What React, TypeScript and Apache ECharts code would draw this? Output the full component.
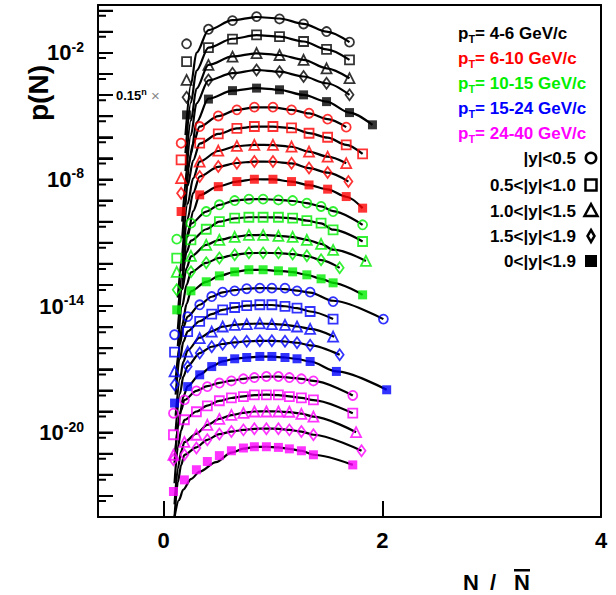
import React, { useEffect, useRef } from "react";
import * as echarts from "echarts";

// x: N / N-bar ; y: log10 p(N), already scaled by 0.15^n
const X_BLACK = [0.21, 0.41, 0.63, 0.85, 1.06, 1.28, 1.49, 1.7, 1.91];
const X_RED = [0.16, 0.33, 0.5, 0.67, 0.83, 1.0, 1.17, 1.33, 1.5, 1.67, 1.82];
const X_RED_D = [0.16, 0.33, 0.5, 0.67, 0.83, 1.0, 1.17, 1.33, 1.5, 1.69];
const X_GREEN = [0.12, 0.25, 0.39, 0.51, 0.65, 0.78, 0.91, 1.05, 1.18, 1.31, 1.44, 1.55, 1.82];
const X_GREEN_T = [0.12, 0.25, 0.39, 0.51, 0.65, 0.78, 0.91, 1.05, 1.18, 1.31, 1.44, 1.55, 1.85];
const X_GREEN_D = [0.12, 0.25, 0.39, 0.51, 0.65, 0.78, 0.91, 1.05, 1.18, 1.31, 1.44, 1.61];
const X_BLUE = [0.1, 0.22, 0.33, 0.44, 0.54, 0.65, 0.76, 0.88, 0.99, 1.11, 1.22, 1.34, 1.55, 2.01];
const X_BLUE_D = [0.1, 0.22, 0.33, 0.44, 0.54, 0.65, 0.76, 0.88, 0.99, 1.11, 1.22, 1.34, 1.61];
const X_BLUE_B = [0.1, 0.22, 0.33, 0.44, 0.54, 0.65, 0.76, 0.88, 0.99, 1.11, 1.22, 1.34, 1.58, 2.04];
const X_MAG = [0.09, 0.19, 0.3, 0.4, 0.51, 0.62, 0.73, 0.83, 0.94, 1.05, 1.15, 1.26, 1.37, 1.73];
const X_MAG_T = [0.09, 0.19, 0.3, 0.4, 0.51, 0.62, 0.73, 0.83, 0.94, 1.05, 1.15, 1.26, 1.37, 1.76];
const X_MAG_D = [0.09, 0.19, 0.3, 0.4, 0.51, 0.62, 0.73, 0.83, 0.94, 1.05, 1.15, 1.26, 1.37, 1.81];

const bkCircle = [-1.57, -0.88, -0.47, -0.28, -0.39, -0.63, -0.99, -1.49];
const bkSquare = [-2.41, -1.75, -1.35, -1.15, -1.23, -1.46, -1.83, -2.33];
const bkTri = [-3.28, -2.57, -2.18, -2.01, -2.1, -2.33, -2.73, -3.2];
const bkDiam = [-4.1, -3.28, -2.96, -2.81, -2.89, -3.12, -3.44, -3.99];
const bkFill = [-4.94, -4.19, -3.79, -3.67, -3.75, -3.99, -4.31, -4.83, -5.41];

const rdCircle = [-6.28, -5.49, -4.99, -4.7, -4.57, -4.57, -4.7, -4.86, -5.14, -5.52];
const rdSquare = [-7.07, -6.28, -5.84, -5.58, -5.49, -5.49, -5.55, -5.81, -6.0, -6.36, -6.79];
const rdTri = [-7.94, -7.15, -6.63, -6.41, -6.36, -6.36, -6.44, -6.68, -6.92, -7.23];
const rdDiam = [-8.65, -7.86, -7.39, -7.23, -7.15, -7.15, -7.23, -7.46, -7.67, -8.1];
const rdFill = [-9.52, -8.73, -8.34, -8.1, -7.99, -7.99, -8.1, -8.26, -8.46, -8.81, -9.36];

const grCircle = [-10.83, -10.07, -9.52, -9.2, -9.0, -8.93, -8.93, -8.97, -9.0, -9.12, -9.28, -9.52, -10.15];
const grSquare = [-11.73, -10.86, -10.36, -10.0, -9.83, -9.79, -9.79, -9.79, -9.83, -9.95, -10.07, -10.39, -10.94];
const grTri = [-12.38, -11.62, -11.1, -10.86, -10.72, -10.63, -10.63, -10.67, -10.72, -10.86, -11.05, -11.34, -11.86];
const grDiam = [-13.23, -12.38, -11.95, -11.72, -11.57, -11.48, -11.48, -11.48, -11.53, -11.62, -11.81, -12.19];
const grFill = [-14.18, -13.28, -12.85, -12.57, -12.38, -12.28, -12.28, -12.33, -12.38, -12.52, -12.71, -12.9, -13.47];

const blCircle = [-15.36, -14.5, -13.94, -13.55, -13.34, -13.28, -13.18, -13.15, -13.15, -13.15, -13.28, -13.34, -13.79, -14.62];
const blSquare = [-16.18, -15.21, -14.73, -14.38, -14.18, -14.07, -13.98, -13.94, -13.94, -14.02, -14.1, -14.26, -14.62];
const blTri = [-17.1, -16.16, -15.52, -15.21, -14.97, -14.89, -14.86, -14.82, -14.86, -14.89, -14.97, -15.08, -15.45];
const blDiam = [-17.73, -16.87, -16.23, -15.93, -15.81, -15.72, -15.67, -15.65, -15.65, -15.67, -15.74, -15.86, -16.31];
const blFill = [-18.6, -17.82, -17.26, -16.87, -16.62, -16.5, -16.44, -16.39, -16.39, -16.44, -16.5, -16.63, -17.1, -17.97];

const mgCircle = [-19.08, -18.45, -18.02, -17.82, -17.65, -17.55, -17.45, -17.39, -17.34, -17.34, -17.39, -17.45, -17.55, -18.24];
const mgSquare = [-20.1, -19.39, -19.01, -18.73, -18.49, -18.35, -18.29, -18.21, -18.21, -18.21, -18.29, -18.35, -18.45, -19.08];
const mgTri = [-21.05, -20.44, -20.1, -19.63, -19.35, -19.16, -19.06, -19.0, -19.0, -19.0, -19.01, -19.11, -19.24, -19.98];
const mgDiam = [-21.29, -21.05, -20.73, -20.34, -20.07, -19.95, -19.87, -19.82, -19.82, -19.82, -19.87, -19.95, -20.1, -20.86];
const mgFill = [-22.79, -22.24, -21.76, -21.37, -21.09, -20.86, -20.73, -20.67, -20.67, -20.7, -20.77, -20.86, -21.05, -21.53];

// fit curves (black lines): [x, log10 p]
const fitBkCircle = [[0.2, -5.9], [0.25, -3.5], [0.3, -2.0], [0.41, -0.92], [0.63, -0.45], [0.85, -0.3], [1.06, -0.37], [1.28, -0.62], [1.49, -0.99], [1.7, -1.49]];
const fitBkSquare = [[0.2, -6.75], [0.25, -4.35], [0.3, -2.85], [0.41, -1.75], [0.63, -1.33], [0.85, -1.16], [1.06, -1.23], [1.28, -1.46], [1.49, -1.83], [1.7, -2.33]];
const fitBkTri = [[0.2, -7.6], [0.25, -5.2], [0.3, -3.7], [0.41, -2.57], [0.63, -2.17], [0.85, -2.02], [1.06, -2.1], [1.28, -2.33], [1.49, -2.73], [1.7, -3.2]];
const fitBkDiam = [[0.2, -8.3], [0.25, -5.9], [0.3, -4.4], [0.41, -3.3], [0.63, -2.96], [0.85, -2.81], [1.06, -2.89], [1.28, -3.12], [1.49, -3.44], [1.7, -3.99]];
const fitBkFill = [[0.2, -9.2], [0.25, -6.8], [0.3, -5.3], [0.41, -4.17], [0.63, -3.79], [0.85, -3.67], [1.06, -3.75], [1.28, -3.99], [1.49, -4.31], [1.7, -4.83], [1.91, -5.41]];

const fitRdCircle = [[0.17, -10.0], [0.22, -7.5], [0.27, -6.3], [0.33, -5.5], [0.5, -5.0], [0.67, -4.7], [0.83, -4.58], [1.0, -4.58], [1.17, -4.7], [1.33, -4.87], [1.5, -5.14], [1.67, -5.52]];
const fitRdSquare = [[0.17, -10.8], [0.22, -8.3], [0.27, -7.1], [0.33, -6.3], [0.5, -5.84], [0.67, -5.58], [0.83, -5.5], [1.0, -5.5], [1.17, -5.56], [1.33, -5.8], [1.5, -6.02], [1.67, -6.36], [1.82, -6.79]];
const fitRdTri = [[0.17, -11.65], [0.22, -9.15], [0.27, -7.95], [0.33, -7.15], [0.5, -6.65], [0.67, -6.42], [0.83, -6.36], [1.0, -6.37], [1.17, -6.45], [1.33, -6.68], [1.5, -6.92], [1.67, -7.23]];
const fitRdDiam = [[0.17, -12.35], [0.22, -9.85], [0.27, -8.65], [0.33, -7.86], [0.5, -7.4], [0.67, -7.22], [0.83, -7.15], [1.0, -7.16], [1.17, -7.24], [1.33, -7.46], [1.5, -7.68], [1.69, -8.1]];
const fitRdFill = [[0.17, -13.2], [0.22, -10.7], [0.27, -9.5], [0.33, -8.74], [0.5, -8.33], [0.67, -8.1], [0.83, -7.99], [1.0, -8.0], [1.17, -8.1], [1.33, -8.27], [1.5, -8.47], [1.67, -8.82], [1.82, -9.36]];

const fitGrCircle = [[0.13, -13.6], [0.17, -11.7], [0.21, -10.7], [0.25, -10.1], [0.39, -9.52], [0.51, -9.2], [0.65, -9.0], [0.78, -8.94], [0.91, -8.93], [1.05, -8.97], [1.18, -9.02], [1.31, -9.12], [1.44, -9.28], [1.55, -9.5], [1.82, -10.15]];
const fitGrSquare = [[0.13, -14.4], [0.17, -12.5], [0.21, -11.45], [0.25, -10.9], [0.39, -10.36], [0.51, -10.0], [0.65, -9.84], [0.78, -9.79], [0.91, -9.79], [1.05, -9.8], [1.18, -9.84], [1.31, -9.95], [1.44, -10.08], [1.55, -10.38], [1.82, -10.94]];
const fitGrTri = [[0.13, -15.1], [0.17, -13.2], [0.21, -12.2], [0.25, -11.65], [0.39, -11.1], [0.51, -10.86], [0.65, -10.72], [0.78, -10.64], [0.91, -10.63], [1.05, -10.67], [1.18, -10.73], [1.31, -10.86], [1.44, -11.05], [1.55, -11.33], [1.85, -11.86]];
const fitGrDiam = [[0.13, -15.9], [0.17, -14.0], [0.21, -13.0], [0.25, -12.4], [0.39, -11.95], [0.51, -11.72], [0.65, -11.57], [0.78, -11.49], [0.91, -11.48], [1.05, -11.49], [1.18, -11.54], [1.31, -11.63], [1.44, -11.82], [1.61, -12.19]];
const fitGrFill = [[0.13, -16.8], [0.17, -14.9], [0.21, -13.9], [0.25, -13.3], [0.39, -12.85], [0.51, -12.57], [0.65, -12.38], [0.78, -12.29], [0.91, -12.28], [1.05, -12.33], [1.18, -12.39], [1.31, -12.52], [1.44, -12.71], [1.55, -12.9], [1.82, -13.47]];

const fitBlCircle = [[0.11, -17.5], [0.15, -15.8], [0.18, -15.0], [0.22, -14.5], [0.33, -13.94], [0.44, -13.56], [0.54, -13.35], [0.65, -13.25], [0.76, -13.18], [0.88, -13.15], [0.99, -13.16], [1.11, -13.2], [1.22, -13.27], [1.34, -13.36], [1.55, -13.75], [2.01, -14.62]];
const fitBlSquare = [[0.11, -18.2], [0.15, -16.5], [0.18, -15.7], [0.22, -15.2], [0.33, -14.72], [0.44, -14.38], [0.54, -14.18], [0.65, -14.06], [0.76, -13.98], [0.88, -13.95], [0.99, -13.95], [1.11, -14.01], [1.22, -14.1], [1.34, -14.26], [1.55, -14.62]];
const fitBlTri = [[0.11, -19.2], [0.15, -17.45], [0.18, -16.65], [0.22, -16.1], [0.33, -15.5], [0.44, -15.2], [0.54, -14.98], [0.65, -14.89], [0.76, -14.85], [0.88, -14.83], [0.99, -14.85], [1.11, -14.89], [1.22, -14.97], [1.34, -15.08], [1.56, -15.45]];
const fitBlDiam = [[0.11, -19.9], [0.15, -18.15], [0.18, -17.35], [0.22, -16.85], [0.33, -16.23], [0.44, -15.93], [0.54, -15.8], [0.65, -15.72], [0.76, -15.67], [0.88, -15.65], [0.99, -15.65], [1.11, -15.68], [1.22, -15.74], [1.34, -15.86], [1.61, -16.31]];
const fitBlFill = [[0.11, -20.8], [0.15, -19.1], [0.18, -18.3], [0.22, -17.8], [0.33, -17.25], [0.44, -16.87], [0.54, -16.62], [0.65, -16.5], [0.76, -16.44], [0.88, -16.4], [0.99, -16.4], [1.11, -16.44], [1.22, -16.51], [1.34, -16.63], [1.58, -17.1], [2.04, -17.97]];

const fitMgCircle = [[0.1, -21.45], [0.13, -19.75], [0.16, -18.95], [0.19, -18.45], [0.3, -18.02], [0.4, -17.8], [0.51, -17.64], [0.62, -17.54], [0.73, -17.45], [0.83, -17.38], [0.94, -17.35], [1.05, -17.35], [1.15, -17.39], [1.26, -17.45], [1.37, -17.55], [1.73, -18.24]];
const fitMgSquare = [[0.1, -22.4], [0.13, -20.7], [0.16, -19.9], [0.19, -19.4], [0.3, -19.0], [0.4, -18.72], [0.51, -18.5], [0.62, -18.36], [0.73, -18.28], [0.83, -18.22], [0.94, -18.2], [1.05, -18.22], [1.15, -18.28], [1.26, -18.35], [1.37, -18.46], [1.73, -19.08]];
const fitMgTri = [[0.1, -23.4], [0.13, -21.7], [0.16, -20.9], [0.19, -20.45], [0.3, -20.05], [0.4, -19.63], [0.51, -19.35], [0.62, -19.17], [0.73, -19.06], [0.83, -19.0], [0.94, -18.99], [1.05, -19.0], [1.15, -19.03], [1.26, -19.1], [1.37, -19.24], [1.76, -19.98]];
const fitMgDiam = [[0.1, -24.0], [0.13, -22.35], [0.16, -21.55], [0.19, -21.05], [0.3, -20.7], [0.4, -20.34], [0.51, -20.07], [0.62, -19.95], [0.73, -19.87], [0.83, -19.82], [0.94, -19.81], [1.05, -19.82], [1.15, -19.87], [1.26, -19.95], [1.37, -20.1], [1.81, -20.86]];
const fitMgFill = [[0.1, -24.0], [0.14, -23.2], [0.18, -22.7], [0.25, -22.2], [0.33, -21.85], [0.48, -21.4], [0.62, -20.95], [0.73, -20.76], [0.83, -20.68], [0.94, -20.67], [1.05, -20.7], [1.15, -20.77], [1.26, -20.86], [1.37, -21.05], [1.73, -21.53]];

const PT_LABELS = ["4-6", "6-10", "10-15", "15-24", "24-40"];
const PT_COLORS = ["#000000", "#ff0000", "#00ee00", "#0000ff", "#ff00ff"];
const Y_LABELS = ["|y|<0.5", "0.5<|y|<1.0", "1.0<|y|<1.5", "1.5<|y|<1.9", "0<|y|<1.9"];
const Y_TICK_LABELS = [-2, -8, -14, -20];
const Y_DECADES = [-23, -22, -21, -20, -19, -18, -17, -16, -15, -14, -13, -12, -11, -10, -9, -8, -7, -6, -5, -4, -3, -2, -1, 0];
const Y_SHORT_TICKS = [-23.24, -22.24, -21.24, -20.24, -19.24, -18.24, -17.24, -16.24, -15.24, -14.24, -13.24, -12.24, -11.24, -10.24, -9.24, -8.24, -7.24, -6.24, -5.24, -4.24, -3.24, -2.24, -1.24, -0.24];
const X_MIN = -0.6;
const X_MAX = 4;
const Y_MIN = -24;
const Y_MAX = 0.27;
// tick lengths in x-axis units (about 15 px and 8 px)
const LONG_TICK = 0.137;
const SHORT_TICK = 0.073;

const GRID = { left: 98, top: 5, right: 15, bottom: 78 };
const W = 616;
const H = 595;

type Shape = "circle" | "square" | "triangle" | "diamond" | "filled";
const SHAPES: Shape[] = ["circle", "square", "triangle", "diamond", "filled"];

const CURVES: { color: number; shape: Shape; x: number[]; y: number[]; fit: number[][] }[] = [
  { color: 0, shape: "circle", x: X_BLACK, y: bkCircle, fit: fitBkCircle },
  { color: 0, shape: "square", x: X_BLACK, y: bkSquare, fit: fitBkSquare },
  { color: 0, shape: "triangle", x: X_BLACK, y: bkTri, fit: fitBkTri },
  { color: 0, shape: "diamond", x: X_BLACK, y: bkDiam, fit: fitBkDiam },
  { color: 0, shape: "filled", x: X_BLACK, y: bkFill, fit: fitBkFill },
  { color: 1, shape: "circle", x: X_RED, y: rdCircle, fit: fitRdCircle },
  { color: 1, shape: "square", x: X_RED, y: rdSquare, fit: fitRdSquare },
  { color: 1, shape: "triangle", x: X_RED, y: rdTri, fit: fitRdTri },
  { color: 1, shape: "diamond", x: X_RED_D, y: rdDiam, fit: fitRdDiam },
  { color: 1, shape: "filled", x: X_RED, y: rdFill, fit: fitRdFill },
  { color: 2, shape: "circle", x: X_GREEN, y: grCircle, fit: fitGrCircle },
  { color: 2, shape: "square", x: X_GREEN, y: grSquare, fit: fitGrSquare },
  { color: 2, shape: "triangle", x: X_GREEN_T, y: grTri, fit: fitGrTri },
  { color: 2, shape: "diamond", x: X_GREEN_D, y: grDiam, fit: fitGrDiam },
  { color: 2, shape: "filled", x: X_GREEN, y: grFill, fit: fitGrFill },
  { color: 3, shape: "circle", x: X_BLUE, y: blCircle, fit: fitBlCircle },
  { color: 3, shape: "square", x: X_BLUE, y: blSquare, fit: fitBlSquare },
  { color: 3, shape: "triangle", x: X_BLUE, y: blTri, fit: fitBlTri },
  { color: 3, shape: "diamond", x: X_BLUE_D, y: blDiam, fit: fitBlDiam },
  { color: 3, shape: "filled", x: X_BLUE_B, y: blFill, fit: fitBlFill },
  { color: 4, shape: "circle", x: X_MAG, y: mgCircle, fit: fitMgCircle },
  { color: 4, shape: "square", x: X_MAG, y: mgSquare, fit: fitMgSquare },
  { color: 4, shape: "triangle", x: X_MAG_T, y: mgTri, fit: fitMgTri },
  { color: 4, shape: "diamond", x: X_MAG_D, y: mgDiam, fit: fitMgDiam },
  { color: 4, shape: "filled", x: X_MAG, y: mgFill, fit: fitMgFill },
];

const FONT = "'Liberation Sans', Arial, Helvetica, sans-serif";

function symbolOf(shape: Shape) {
  if (shape === "circle") return { symbol: "circle", size: 9 };
  if (shape === "triangle") return { symbol: "triangle", size: 10 };
  if (shape === "diamond") return { symbol: "diamond", size: [8, 11] };
  return { symbol: "rect", size: 9 };
}

export default function App() {
  const ref = useRef<HTMLDivElement>(null);
  useEffect(() => {
    if (!ref.current) return;
    const chart = echarts.init(ref.current, undefined, { renderer: "svg" });
    const series: any[] = [];
    CURVES.forEach((c, i) => {
      series.push({
        type: "line",
        name: "fit" + i,
        data: c.fit,
        smooth: 0.3,
        smoothMonotone: "x",
        showSymbol: false,
        symbol: "none",
        silent: true,
        z: 2,
        lineStyle: { color: "#000", width: 2.2 },
      });
    });
    CURVES.forEach((c, i) => {
      const col = PT_COLORS[c.color];
      const s = symbolOf(c.shape);
      const filled = c.shape === "filled";
      series.push({
        type: "scatter",
        name: "pts" + i,
        data: c.y.map((v, k) => [c.x[k], v]),
        symbol: s.symbol,
        symbolSize: s.size,
        silent: true,
        z: 3,
        itemStyle: filled
          ? { color: col, borderWidth: 0 }
          : { color: "rgba(0,0,0,0)", borderColor: col, borderWidth: 1.8 },
      });
    });
    // y-axis tick marks as short segments drawn through the axis scales
    const tickData: any[] = [];
    Y_DECADES.forEach((v) => {
      tickData.push([X_MIN, v], [X_MIN + LONG_TICK, v], null);
    });
    Y_SHORT_TICKS.forEach((v) => {
      tickData.push([X_MIN, v], [X_MIN + SHORT_TICK, v], null);
    });
    series.push({
      type: "line",
      name: "yTicks",
      data: tickData,
      connectNulls: false,
      showSymbol: false,
      symbol: "none",
      silent: true,
      clip: false,
      z: 5,
      lineStyle: { color: "#000", width: 2 },
    });

    const graphic: any[] = [];
    graphic.push({
      type: "text",
      x: 38,
      y: 93,
      rotation: Math.PI / 2,
      style: { text: "p(N)", font: `bold 28px ${FONT}`, fill: "#000", align: "center", verticalAlign: "middle" },
    });
    graphic.push({ type: "text", x: 463, y: 582, style: { text: "N", font: `bold 22px ${FONT}`, fill: "#000", verticalAlign: "middle" } });
    graphic.push({ type: "text", x: 490, y: 582, style: { text: "/", font: `bold 22px ${FONT}`, fill: "#000", verticalAlign: "middle" } });
    graphic.push({ type: "text", x: 514, y: 582, style: { text: "N", font: `bold 22px ${FONT}`, fill: "#000", verticalAlign: "middle" } });
    graphic.push({ type: "rect", shape: { x: 514, y: 569, width: 16, height: 2.5 }, style: { fill: "#000" } });
    graphic.push({
      type: "text",
      x: 116,
      y: 95,
      style: {
        text: "{a|0.15}{n|n}{x| ×}",
        verticalAlign: "middle",
        rich: {
          a: { font: `bold 13px ${FONT}`, fill: "#000", lineHeight: 16 },
          n: { font: `bold 9px ${FONT}`, fill: "#000", verticalAlign: "top", lineHeight: 10 },
          x: { font: `15px ${FONT}`, fill: "#888", lineHeight: 16 },
        },
      },
    });
    PT_LABELS.forEach((lab, i) => {
      graphic.push({
        type: "text",
        x: 458,
        y: 33 + i * 25,
        style: {
          text: `{p|p}{t|T}{r|= ${lab} GeV/c}`,
          verticalAlign: "middle",
          rich: {
            p: { font: `bold 17px ${FONT}`, fill: PT_COLORS[i], lineHeight: 22, verticalAlign: "middle" },
            t: { font: `bold 11px ${FONT}`, fill: PT_COLORS[i], lineHeight: 12, verticalAlign: "bottom" },
            r: { font: `bold 17px ${FONT}`, fill: PT_COLORS[i], lineHeight: 22, verticalAlign: "middle" },
          },
        },
      });
    });
    const ly = [158, 185, 211, 236, 261];
    Y_LABELS.forEach((lab, i) => {
      graphic.push({
        type: "text",
        x: 576,
        y: ly[i],
        style: { text: lab, font: `bold 17px ${FONT}`, fill: "#000", align: "right", verticalAlign: "middle" },
      });
      const cx = 591;
      const cy = ly[i];
      const sh = SHAPES[i];
      const st = { fill: "none", stroke: "#000", lineWidth: 2.5 };
      if (sh === "circle") graphic.push({ type: "circle", shape: { cx, cy, r: 5.2 }, style: st });
      else if (sh === "square") graphic.push({ type: "rect", shape: { x: cx - 5.5, y: cy - 5.5, width: 11, height: 11 }, style: st });
      else if (sh === "triangle")
        graphic.push({ type: "polygon", shape: { points: [[cx, cy - 7], [cx + 6.5, cy + 5], [cx - 6.5, cy + 5]] }, style: st });
      else if (sh === "diamond")
        graphic.push({ type: "polygon", shape: { points: [[cx, cy - 6], [cx + 3.5, cy], [cx, cy + 6], [cx - 3.5, cy]] }, style: st });
      else graphic.push({ type: "rect", shape: { x: cx - 6, y: cy - 6, width: 12, height: 12 }, style: { fill: "#000" } });
    });

    const frameLine = { show: true, onZero: false, lineStyle: { color: "#000", width: 2 } };
    chart.setOption({
      animation: false,
      backgroundColor: "#fff",
      grid: { ...GRID, show: false },
      xAxis: [
        {
          type: "value",
          position: "bottom",
          min: X_MIN,
          max: X_MAX,
          splitNumber: 2,
          splitLine: { show: false },
          axisLine: frameLine,
          axisTick: { show: true, inside: true, length: 16, lineStyle: { color: "#000", width: 2 } },
          axisLabel: {
            margin: 12,
            formatter: (v: number) => (Math.abs(v - Math.round(v)) < 1e-9 ? String(v) : ""),
            fontFamily: FONT,
            fontWeight: "bold",
            fontSize: 22,
            color: "#000",
            showMinLabel: false,
          },
        },
        {
          type: "value",
          position: "top",
          min: X_MIN,
          max: X_MAX,
          splitLine: { show: false },
          axisLine: frameLine,
          axisTick: { show: false },
          axisLabel: { show: false },
        },
      ],
      yAxis: [
        {
          type: "value",
          position: "left",
          min: Y_MIN,
          max: Y_MAX,
          interval: 1,
          splitLine: { show: false },
          axisLine: frameLine,
          axisTick: { show: true, inside: true, length: 15, lineStyle: { color: "#000", width: 2 } },
          axisLabel: {
            margin: 14,
            customValues: Y_TICK_LABELS,
            formatter: (v: number) => `{b|10}{s|${Math.round(v)}}`,
            rich: {
              b: { fontFamily: FONT, fontWeight: "bold", fontSize: 22, color: "#000", lineHeight: 26 },
              s: { fontFamily: FONT, fontWeight: "bold", fontSize: 14, color: "#000", lineHeight: 14, verticalAlign: "top" },
            },
          },
        },
        {
          type: "value",
          position: "right",
          min: Y_MIN,
          max: Y_MAX,
          splitLine: { show: false },
          axisLine: frameLine,
          axisTick: { show: false },
          axisLabel: { show: false },
        },
      ],
      series,
      graphic,
    });
    return () => chart.dispose();
  }, []);
  return <div ref={ref} style={{ position: "fixed", left: 0, top: 0, width: W, height: H }} />;
}
